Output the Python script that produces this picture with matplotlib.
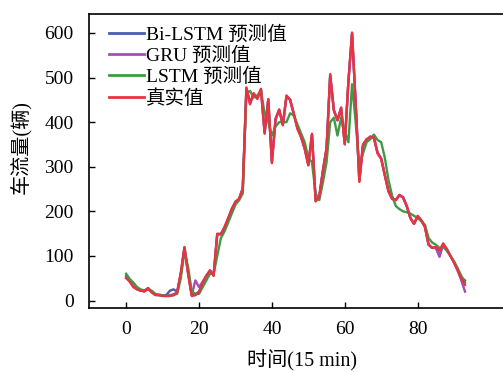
import matplotlib
matplotlib.use("Agg")
import matplotlib.pyplot as plt

plt.rcParams['font.family'] = ['Liberation Serif', 'Noto Sans CJK SC', 'DejaVu Sans']

x = list(range(94))

true_vals = [50, 42, 30, 25, 22, 20, 27, 18, 12, 12,
             10, 10, 10, 12, 18, 62, 120, 60, 10, 12,
             18, 40, 55, 68, 55, 150, 148, 165, 185, 205,
             222, 228, 250, 478, 440, 465, 452, 475, 374, 452,
             308, 408, 428, 393, 460, 450, 420, 385, 368, 340,
             303, 374, 222, 232, 290, 340, 508, 426, 404, 433,
             350, 493, 601, 440, 266, 350, 362, 366, 366, 330,
             318, 280, 245, 228, 225, 237, 231, 212, 185, 172,
             190, 180, 165, 125, 118, 120, 112, 128, 115, 100,
             85, 68, 50, 35]

bilstm_vals = [55, 44, 32, 26, 22, 22, 28, 20, 14, 13,
               12, 12, 22, 25, 20, 60, 118, 62, 12, 14,
               20, 40, 55, 66, 58, 148, 150, 163, 183, 205,
               220, 228, 252, 475, 445, 462, 455, 472, 378, 450,
               312, 405, 428, 395, 457, 450, 418, 388, 366, 342,
               305, 372, 225, 234, 292, 342, 505, 428, 404, 430,
               352, 490, 598, 442, 270, 348, 360, 368, 364, 332,
               318, 282, 245, 228, 226, 236, 232, 212, 186, 172,
               188, 180, 166, 126, 118, 118, 100, 126, 116, 100,
               86, 70, 52, 45]

gru_vals = [52, 43, 31, 25, 22, 21, 28, 19, 13, 12,
            11, 11, 12, 14, 18, 60, 119, 62, 12, 45,
            30, 42, 56, 67, 57, 149, 149, 164, 184, 206,
            221, 228, 251, 476, 442, 464, 453, 474, 376, 451,
            310, 407, 428, 394, 458, 451, 419, 386, 367, 341,
            304, 373, 224, 233, 291, 341, 506, 427, 405, 432,
            351, 491, 600, 441, 268, 349, 361, 367, 365, 331,
            318, 281, 245, 228, 225, 236, 231, 212, 185, 172,
            189, 180, 165, 125, 118, 119, 98, 127, 115, 100,
            85, 66, 45, 20]

lstm_vals = [60, 48, 40, 30, 25, 22, 24, 22, 15, 12,
             12, 10, 12, 12, 15, 50, 110, 75, 20, 15,
             15, 30, 45, 60, 60, 100, 140, 155, 175, 195,
             215, 225, 240, 465, 470, 455, 460, 470, 420, 400,
             370, 390, 400, 400, 400, 420, 415, 395, 375, 355,
             320, 310, 240, 225, 265, 310, 400, 410, 370, 410,
             380, 355, 485, 400, 300, 330, 355, 362, 372, 360,
             355, 320, 270, 235, 212, 205, 200, 198, 195, 190,
             185, 178, 170, 140, 130, 125, 118, 120, 112, 100,
             88, 72, 55, 40]

series_labels = ['Bi-LSTM 预测值', 'GRU 预测值', 'LSTM 预测值', '真实值']
colors = ['#4b5cab', '#a24fb5', '#3f9a45', '#e8343f']
x_ticks = [0, 20, 40, 60, 80]
y_ticks = [0, 100, 200, 300, 400, 500, 600]

fig = plt.figure(figsize=(5.03, 3.72), dpi=100)
ax = fig.add_axes([89/503, 64/372, (512-89)/503, 294/372])

for vals, lab, c in zip([bilstm_vals, gru_vals, lstm_vals, true_vals], series_labels, colors):
    ax.plot(x, vals, color=c, lw=1.7, label=lab)

ax.set_xlim(-10.2, 105.9)
ax.set_ylim(-16.8, 642.6)
ax.set_xticks(x_ticks)
ax.set_yticks(y_ticks)
ax.tick_params(direction='in', length=4.5, width=1.0, labelsize=14)
ax.tick_params(axis='y', pad=11)
ax.tick_params(axis='x', pad=9)
ax.tick_params(top=False, right=False)
for s in ax.spines.values():
    s.set_linewidth(1.2)

ax.set_xlabel('时间(15 min)', fontsize=14.5)
ax.set_ylabel('车流量(辆)', fontsize=14.5)
ax.xaxis.set_label_coords(0.5035, -0.143)
ax.yaxis.set_label_coords(-0.1355, 0.548)

leg = ax.legend(loc='upper left', frameon=False, fontsize=14, handlelength=1.8,
                handletextpad=0.1, labelspacing=0.15, borderaxespad=0.2,
                bbox_to_anchor=(0.02, 1.0))
for h in leg.get_lines():
    h.set_linewidth(2.0)

fig.savefig('out.png', dpi=100)
